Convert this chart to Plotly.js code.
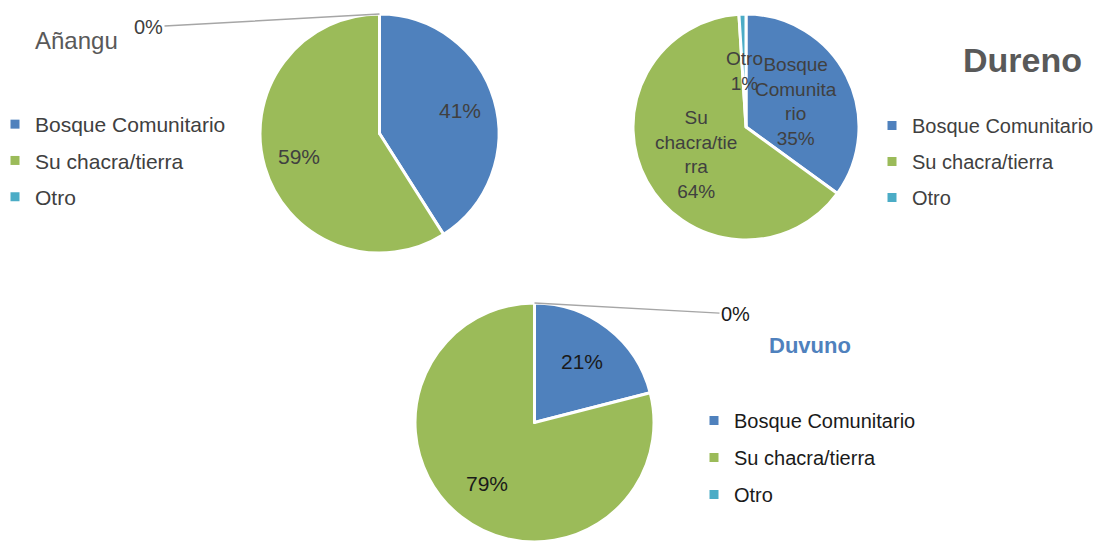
<!DOCTYPE html>
<html><head><meta charset="utf-8">
<script src="https://cdn.plot.ly/plotly-3.0.1.min.js"></script>
<style>html,body{margin:0;padding:0;background:#fff}#chart{width:1094px;height:542px}</style>
</head><body><div id="chart"></div>
<script>
// ---- data ----
const categories = ['Bosque Comunitario', 'Su chacra/tierra', 'Otro'];
const anganguValues = [41, 59, 0];
const durenoValues = [35, 64, 1];
const duvunoValues = [21, 79, 0];
const durenoSliceText = ['Bosque<br>Comunita<br>rio', 'Su<br>chacra/tie<br>rra', 'Otro'];
const chartTitles = ['Añangu', 'Dureno', 'Duvuno'];

// ---- style ----
const W = 1094, H = 542;
const colors = ['#4F81BD', '#9BBB59', '#4BACC6'];
const SANS = '"Liberation Sans", Arial, sans-serif';

function dom(x0, x1, yTop, yBot) {
  return {x: [x0 / W, x1 / W], y: [Math.max(0, 1 - yBot / H), 1 - yTop / H], px: [x0, x1, yTop, Math.min(yBot, H)]};
}
const d1 = dom(260, 499, 14, 253);
const d2 = dom(633, 859, 14, 240);
const d3 = dom(413, 656, 303, 542);

function pct(values, i) {
  const s = values.reduce((a, b) => a + b, 0);
  return Math.round(100 * values[i] / s) + '%';
}
// point on slice i (mid angle, clockwise from 12 o'clock) at fraction rf of the radius, paper coords
function slicePoint(d, values, i, rf) {
  const [x0, x1, yT, yB] = d.px;
  const cx = (x0 + x1) / 2, cy = (yT + yB) / 2;
  const r = Math.min(x1 - x0, yB - yT) / 2;
  const s = values.reduce((a, b) => a + b, 0);
  let cum = 0;
  for (let k = 0; k < i; k++) cum += values[k];
  const mid = (cum + values[i] / 2) / s * 2 * Math.PI;
  return {x: (cx + rf * r * Math.sin(mid)) / W, y: 1 - (cy - rf * r * Math.cos(mid)) / H};
}

function pie(values, d) {
  return {
    type: 'pie', labels: categories, values: values, domain: {x: d.x, y: d.y},
    sort: false, direction: 'clockwise', rotation: 0,
    marker: {colors: colors, line: {color: '#ffffff', width: 3}},
    textinfo: 'none', showlegend: false, hoverinfo: 'label+percent'
  };
}

const traces = [pie(anganguValues, d1), pie(durenoValues, d2), pie(duvunoValues, d3)];

// legend entries (one legend per pie)
['legend', 'legend2', 'legend3'].forEach((lg, j) => {
  categories.forEach((c, i) => {
    traces.push({
      type: 'scatter', mode: 'markers', x: [null], y: [null], name: c,
      marker: {symbol: 'square', size: 9, color: colors[i]},
      legend: lg, legendgroup: lg + '_' + i, showlegend: true, hoverinfo: 'skip'
    });
  });
});

function label(pt, text, size, color) {
  return {xref: 'paper', yref: 'paper', x: pt.x, y: pt.y, xanchor: 'center', yanchor: 'middle',
          text: text, showarrow: false, font: {family: SANS, size: size, color: color}};
}

const annotations = [
  {xref: 'paper', yref: 'paper', x: 33 / W, y: 1 - 40 / H, xanchor: 'left', yanchor: 'middle',
   text: chartTitles[0], showarrow: false, font: {family: SANS, size: 24, color: '#595959'}},
  {xref: 'paper', yref: 'paper', x: 1022 / W, y: 1 - 60 / H, xanchor: 'center', yanchor: 'middle',
   text: '<b>' + chartTitles[1] + '</b>', showarrow: false, font: {family: SANS, size: 34, color: '#595959'}},
  {xref: 'paper', yref: 'paper', x: 810 / W, y: 1 - 345 / H, xanchor: 'center', yanchor: 'middle',
   text: '<b>' + chartTitles[2] + '</b>', showarrow: false, font: {family: SANS, size: 22, color: '#4F81BD'}}
];

// Añangu slice labels
[0, 1].forEach(i => annotations.push(label(slicePoint(d1, anganguValues, i, 0.7), pct(anganguValues, i), 21, '#404040')));
// Duvuno slice labels
[0, 1].forEach(i => annotations.push(label(slicePoint(d3, duvunoValues, i, 0.65), pct(duvunoValues, i), 21, '#1a1a1a')));
// Dureno slice labels (category + percent, at half radius)
[0, 1, 2].forEach(i => annotations.push(label(slicePoint(d2, durenoValues, i, 0.5),
  (i === 2 ? categories[2] : durenoSliceText[i]) + '<br>' + pct(durenoValues, i), 19, '#404040')));

// leader-line labels for zero slices
const pA = slicePoint(d1, anganguValues, 2, 1);
const pC = slicePoint(d3, duvunoValues, 2, 1);
annotations.push(
  {xref: 'paper', yref: 'paper', x: pA.x, y: pA.y, ax: -231, ay: 13, text: pct(anganguValues, 2),
   showarrow: true, arrowhead: 0, arrowwidth: 1.5, arrowcolor: '#A6A6A6', standoff: 0,
   font: {family: SANS, size: 20, color: '#404040'}},
  {xref: 'paper', yref: 'paper', x: pC.x, y: pC.y, ax: 201, ay: 11, text: pct(duvunoValues, 2),
   showarrow: true, arrowhead: 0, arrowwidth: 1.5, arrowcolor: '#A6A6A6', standoff: 0,
   font: {family: SANS, size: 20, color: '#1a1a1a'}}
);

const legendBase = {
  orientation: 'v', xanchor: 'left', yanchor: 'top', bgcolor: 'rgba(0,0,0,0)',
  tracegroupgap: 6, font: {family: SANS, size: 21, color: '#404040'},
  itemclick: false, itemdoubleclick: false
};

const layout = {
  width: W, height: H, margin: {l: 0, r: 0, t: 0, b: 0, autoexpand: false},
  paper_bgcolor: '#ffffff', plot_bgcolor: '#ffffff',
  xaxis: {visible: false}, yaxis: {visible: false},
  legend: Object.assign({}, legendBase, {x: -5 / W, y: 1 - 104 / H}),
  legend2: Object.assign({}, legendBase, {x: 872 / W, y: 1 - 106 / H, tracegroupgap: 7,
    font: {family: SANS, size: 20, color: '#404040'}}),
  legend3: Object.assign({}, legendBase, {x: 694 / W, y: 1 - 401 / H, tracegroupgap: 8,
    font: {family: SANS, size: 20, color: '#1a1a1a'}}),
  annotations: annotations
};

Plotly.newPlot('chart', traces, layout, {displayModeBar: false, staticPlot: true});
</script>
</body></html>
